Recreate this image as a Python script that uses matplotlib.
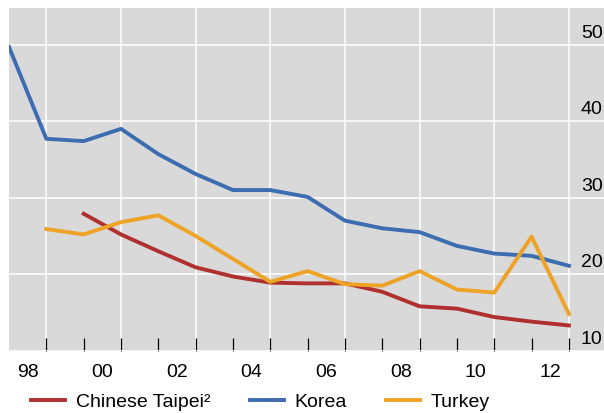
import numpy as np
import matplotlib
matplotlib.use('Agg')
import matplotlib.pyplot as plt
from matplotlib.transforms import ScaledTranslation

plt.rcParams['font.family'] = ['Liberation Sans', 'DejaVu Sans']

# ------- data -------
korea_years = list(range(1997, 2013))
korea = [49.7, 37.7, 37.4, 39.0, 35.7, 33.1, 31.0, 31.0, 30.1,
         27.0, 26.0, 25.5, 23.7, 22.7, 22.4, 21.1]

turkey_years = list(range(1998, 2013))
turkey = [25.9, 25.2, 26.8, 27.7, 25.0, 22.0, 19.0, 20.4,
          18.7, 18.5, 20.4, 18.0, 17.6, 24.9, 14.8]

taipei_years = list(range(1999, 2013))
taipei = [27.9, 25.2, 23.0, 20.9, 19.7, 18.9, 18.8,
          18.8, 17.7, 15.8, 15.5, 14.4, 13.8, 13.3]

label_years = [1998, 2000, 2002, 2004, 2006, 2008, 2010, 2012]
y_ticks = [10, 20, 30, 40, 50]

red = '#B0302F'
blue = '#3D6DB1'
orange = '#EDA325'

fig = plt.figure(figsize=(6.04, 4.13), dpi=100)
ax = fig.add_axes([9/604, (413-350.7)/413, 595/604, (350.7-8)/413])
ax.set_facecolor('#D9D9D9')

# each annual value sits at the end of its year
ax.plot(np.array(taipei_years) + 1, taipei, color=red, lw=2.8, label='Chinese Taipei²', zorder=3)
ax.plot(np.array(korea_years) + 1, korea, color=blue, lw=2.8, label='Korea', zorder=3)
ax.plot(np.array(turkey_years) + 1, turkey, color=orange, lw=2.8, label='Turkey', zorder=3)

ax.set_xlim(1998, 2013.94)
ax.set_ylim(10.2, 54.8)

# year boundary ticks, labels centred on the years
ax.set_xticks(range(1999, 2014))
ax.set_xticklabels([])
ax.set_xticks([y + 0.5 for y in label_years], minor=True)
ax.set_xticklabels([str(y)[2:] for y in label_years], minor=True, fontsize=14)
ax.tick_params(axis='x', which='major', direction='in', length=9.5, width=0.9, color='black')
ax.tick_params(axis='x', which='minor', length=0, pad=9.5)
for yr in range(1999, 2014, 2):
    ax.axvline(yr, color='white', lw=1.1, zorder=1)

ax.set_yticks(y_ticks)
ax.set_yticklabels([])
ax.tick_params(axis='y', length=0)
ax.grid(axis='y', color='white', lw=1.1)
ax.set_axisbelow(False)

off = ScaledTranslation(0, 0.115, fig.dpi_scale_trans)
for v in y_ticks:
    ax.text(0.9613, v, str(v), transform=ax.get_yaxis_transform() + off,
            ha='left', va='center', fontsize=14)

for s in ax.spines.values():
    s.set_visible(False)

fig.legend(loc='center left', bbox_to_anchor=(31/604, (413-401.7)/413), ncol=3,
           frameon=False, fontsize=14, handlelength=1.75, handletextpad=0.57,
           columnspacing=2.0, borderpad=0, borderaxespad=0)

fig.savefig('out.png', dpi=100)
